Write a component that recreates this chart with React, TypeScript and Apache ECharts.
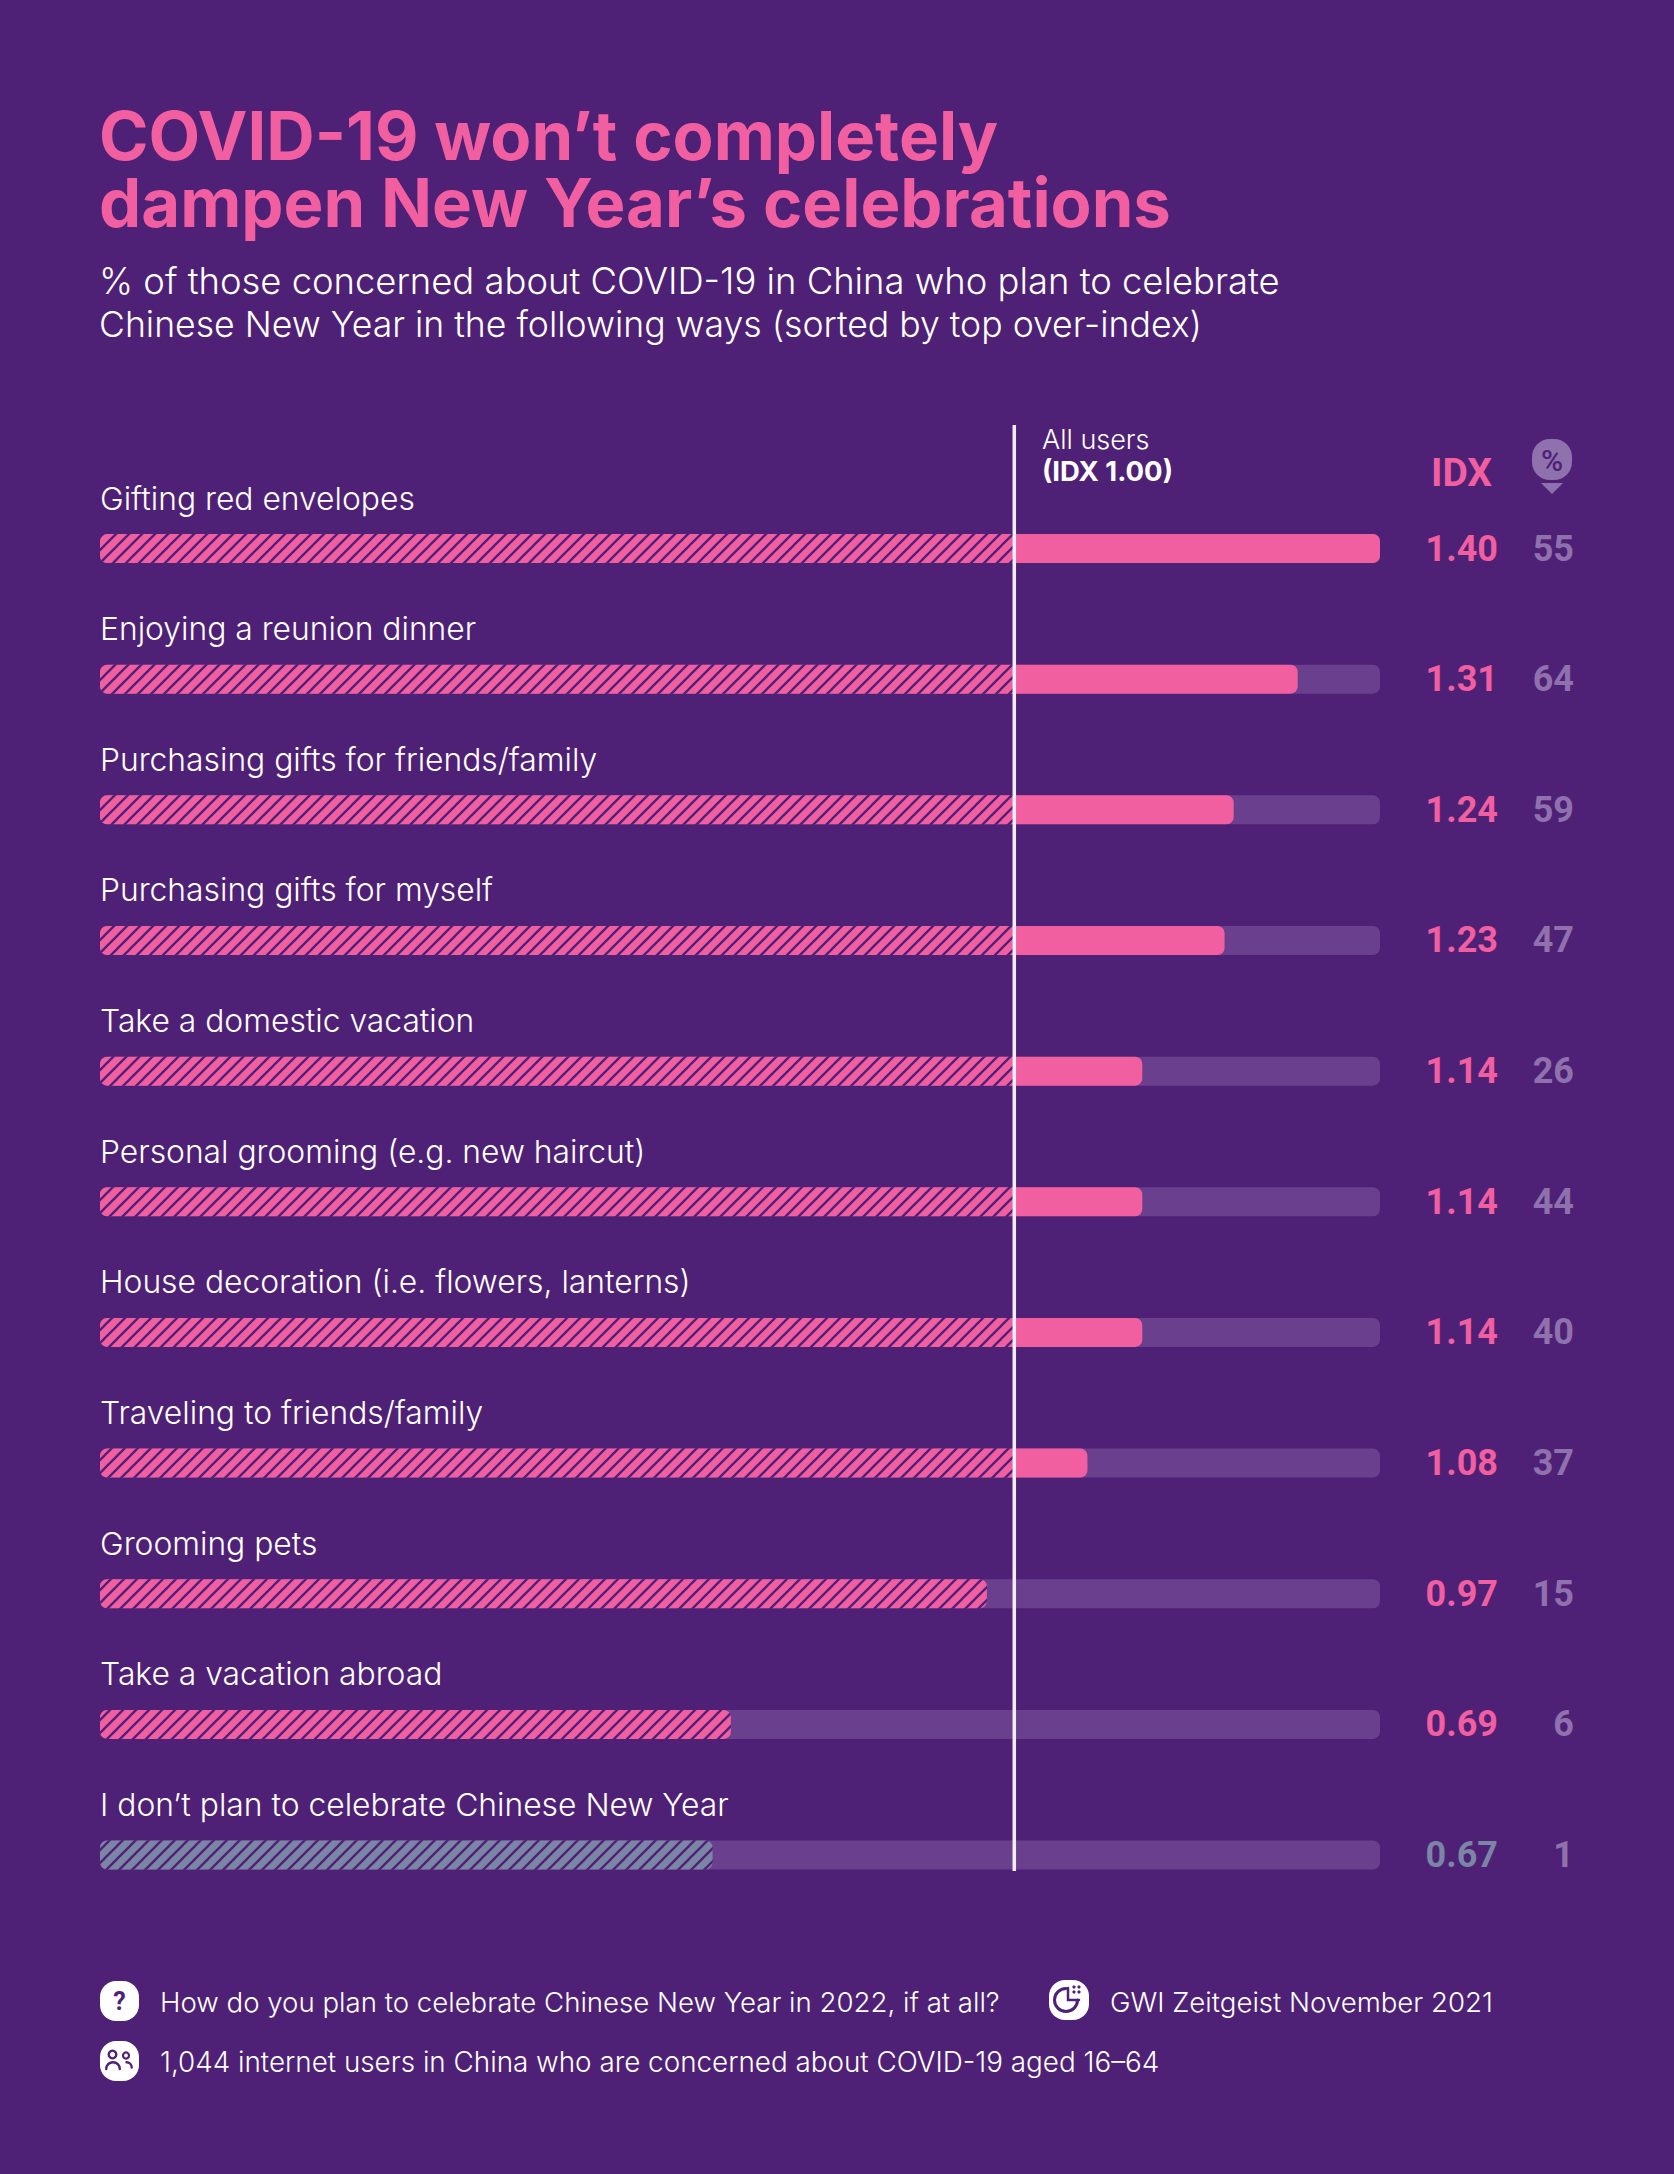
import React, { useEffect, useRef } from "react";
import * as echarts from "echarts";

const categories = [
  "Gifting red envelopes",
  "Enjoying a reunion dinner",
  "Purchasing gifts for friends/family",
  "Purchasing gifts for myself",
  "Take a domestic vacation",
  "Personal grooming (e.g. new haircut)",
  "House decoration (i.e. flowers, lanterns)",
  "Traveling to friends/family",
  "Grooming pets",
  "Take a vacation abroad",
  "I don’t plan to celebrate Chinese New Year",
];
const idxValues = [1.4, 1.31, 1.24, 1.23, 1.14, 1.14, 1.14, 1.08, 0.97, 0.69, 0.67];
const pctValues = [55, 64, 59, 47, 26, 44, 40, 37, 15, 6, 1];
const axisMax = 1.4;
const baseline = 1;

const BG = "#4f2176";
const PINK = "#f15fa1";
const SLATE = "#7b85a5";
const TRACK = "#6a3f8d";
const MUTED = "#8f71ad";
const WHITE = "#ffffff";
const TITLE_FONT = "Inter";
const BODY_FONT = "Inter";
const NUM_FONT = "Roboto";

function hatch(color: string) {
  const s = 13;
  const c = document.createElement("canvas");
  c.width = s;
  c.height = s;
  const g = c.getContext("2d")!;
  g.fillStyle = color;
  g.fillRect(0, 0, s, s);
  g.strokeStyle = BG;
  g.lineWidth = 2.3;
  for (const o of [-s, 0, s]) {
    g.beginPath();
    g.moveTo(o - 2, s + 2);
    g.lineTo(o + s + 2, -2);
    g.stroke();
  }
  return { image: c, repeat: "repeat" as const };
}

const colorFor = (v: number) => (v < 0.68 ? SLATE : PINK);

function text(t: string, x: number, y: number, size: number, fill: string, family: string, weight: number | string = 400, align = "left", lineHeight?: number) {
  return {
    type: "text",
    silent: true,
    style: { text: t, x, y, fill, font: `${weight} ${size}px "${family}"`, align, verticalAlign: "middle", lineHeight },
  };
}

function buildOption() {
  const R = 7;
  const pink = hatch(PINK);
  const slate = hatch(SLATE);
  const top = 483.2;
  const rowH = 130.65;
  const numLabel = { fontFamily: NUM_FONT, fontWeight: 700, fontSize: 36 };
  const lineStyle = (w: number) => ({ fill: "none", stroke: BG, lineWidth: w, lineCap: "round" });
  return {
    animation: false,
    backgroundColor: BG,
    grid: { left: 100, width: 1280, top, height: rowH * categories.length },
    xAxis: { type: "value", min: 0, max: axisMax, show: false },
    yAxis: [
      {
        type: "category",
        inverse: true,
        data: categories,
        axisLine: { show: false },
        axisTick: { show: false },
        axisLabel: { show: false },
      },
      {
        type: "category",
        inverse: true,
        position: "right",
        data: idxValues.map((v) => ({ value: v.toFixed(2), textStyle: { color: colorFor(v), align: "right" } })),
        axisLine: { show: false },
        axisTick: { show: false },
        axisLabel: { interval: 0, margin: 118, align: "right", ...numLabel },
      },
      {
        type: "category",
        inverse: true,
        position: "right",
        data: pctValues.map(String),
        axisLine: { show: false },
        axisTick: { show: false },
        axisLabel: { interval: 0, margin: 194, align: "right", color: MUTED, ...numLabel },
      },
    ],
    series: [
      {
        type: "bar",
        name: "track",
        barWidth: 29,
        barGap: "-100%",
        data: categories.map(() => axisMax),
        itemStyle: { color: TRACK, borderRadius: R },
        label: {
          show: true,
          formatter: "{b}",
          position: [0, -36],
          verticalAlign: "middle",
          align: "left",
          color: WHITE,
          fontFamily: BODY_FONT,
          fontSize: 31.8,
          fontWeight: 300,
        },
      },
      {
        type: "bar",
        name: "below",
        stack: "idx",
        barWidth: 29,
        data: idxValues.map((v) => ({
          value: Math.min(v, baseline),
          itemStyle: { color: v < 0.68 ? slate : pink, borderRadius: v < baseline ? R : [R, 0, 0, R] },
        })),
      },
      {
        type: "bar",
        name: "above",
        stack: "idx",
        barWidth: 29,
        data: idxValues.map((v) => Math.max(+(v - baseline).toFixed(2), 0)),
        itemStyle: { color: PINK, borderRadius: [0, R, R, 0] },
      },
      {
        type: "custom",
        name: "All users",
        silent: true,
        z: 5,
        clip: false,
        data: [[baseline, 0]],
        encode: { x: 0, y: 1 },
        renderItem: (_: any, api: any) => {
          const x = api.coord([api.value(0), 0])[0];
          return {
            type: "line",
            shape: { x1: x, y1: 425, x2: x, y2: 1871 },
            style: { stroke: "#f1ecf6", lineWidth: 3.5 },
          };
        },
      },
    ],
    graphic: [
      text("COVID-19 won’t completely\ndampen New Year’s celebrations", 99, 169, 67, PINK, TITLE_FONT, 700, "left", 67),
      text("% of those concerned about COVID-19 in China who plan to celebrate", 99, 281, 36.4, WHITE, BODY_FONT, 300),
      text("Chinese New Year in the following ways (sorted by top over-index)", 99, 324, 35.6, WHITE, BODY_FONT, 300),
      text("All users", 1042, 439, 27, WHITE, BODY_FONT, 300),
      text("(IDX 1.00)", 1042, 471, 27.5, WHITE, BODY_FONT, 700),
      text("IDX", 1431, 473, 39, PINK, NUM_FONT, 700),
      { type: "rect", silent: true, shape: { x: 1532, y: 439, width: 40, height: 41, r: 18 }, style: { fill: MUTED } },
      text("%", 1552, 460, 30, BG, NUM_FONT, 500, "center"),
      { type: "polygon", silent: true, shape: { points: [[1541, 483], [1563, 483], [1552, 494]] }, style: { fill: MUTED } },

      { type: "rect", silent: true, shape: { x: 100, y: 1981, width: 39, height: 40, r: 16 }, style: { fill: WHITE } },
      text("?", 119.5, 2001, 25, BG, NUM_FONT, 700, "center"),
      text("How do you plan to celebrate Chinese New Year in 2022, if at all?", 160, 2002, 27.6, WHITE, BODY_FONT, 300),

      { type: "rect", silent: true, shape: { x: 1049, y: 1980, width: 40, height: 40, r: 16 }, style: { fill: WHITE } },
      { type: "arc", silent: true, shape: { cx: 1066, cy: 2000, r: 11.5, startAngle: 0, endAngle: -Math.PI / 2, clockwise: true }, style: lineStyle(3) },
      { type: "polyline", silent: true, shape: { points: [[1068, 1988], [1068, 2000], [1079, 2000]] }, style: lineStyle(2.5) },
      ...[[1074, 1987], [1079, 1987], [1079, 1992], [1074, 1992]].map(([cx, cy]) => ({
        type: "circle",
        silent: true,
        shape: { cx, cy, r: 1.6 },
        style: { fill: BG },
      })),
      text("GWI Zeitgeist November 2021", 1110, 2002, 27.6, WHITE, BODY_FONT, 300),

      { type: "rect", silent: true, shape: { x: 100, y: 2041, width: 39, height: 40, r: 16 }, style: { fill: WHITE } },
      { type: "circle", silent: true, shape: { cx: 112.5, cy: 2054.5, r: 3.8 }, style: lineStyle(2.4) },
      { type: "circle", silent: true, shape: { cx: 126, cy: 2055.5, r: 3 }, style: lineStyle(2.2) },
      { type: "arc", silent: true, shape: { cx: 113, cy: 2069, r: 6.8, startAngle: Math.PI, endAngle: 0, clockwise: true }, style: lineStyle(2.4) },
      { type: "arc", silent: true, shape: { cx: 126.5, cy: 2067.5, r: 5.2, startAngle: -Math.PI / 2, endAngle: 0, clockwise: true }, style: lineStyle(2.4) },
      text("1,044 internet users in China who are concerned about COVID-19 aged 16–64", 160, 2062, 27.8, WHITE, BODY_FONT, 300),
    ],
  };
}

export default function App() {
  const ref = useRef<HTMLDivElement>(null);
  useEffect(() => {
    document.body.style.margin = "0";
    document.body.style.background = BG;
    const chart = echarts.init(ref.current!, undefined, { renderer: "svg" });
    chart.setOption(buildOption() as any);
    return () => chart.dispose();
  }, []);
  return <div ref={ref} style={{ width: 1674, height: 2174 }} />;
}
